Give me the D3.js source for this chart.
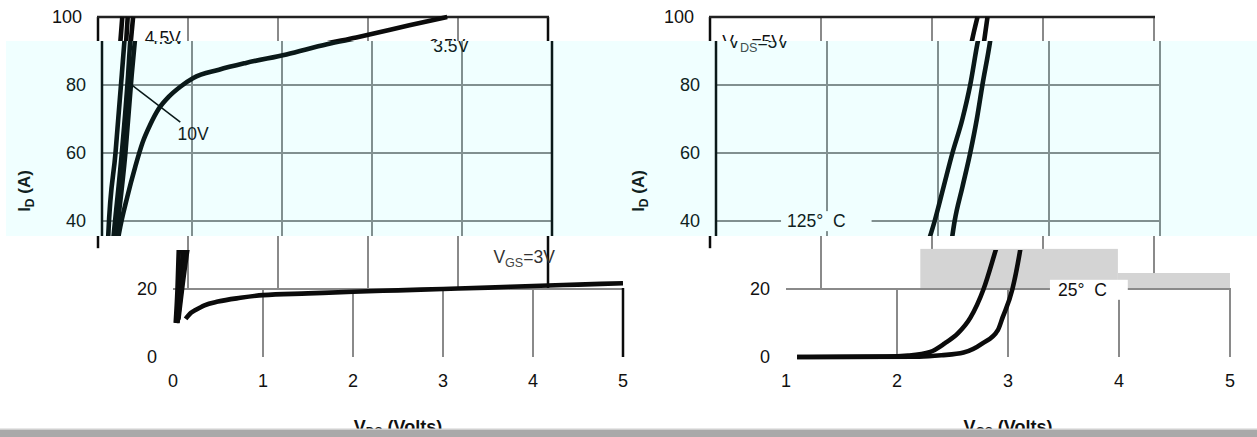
<!DOCTYPE html>
<html><head><meta charset="utf-8">
<script src="https://cdn.jsdelivr.net/npm/d3@7"></script>
<style>body{margin:0;background:#fff}svg{display:block;font-family:"Liberation Sans",Arial,sans-serif}</style>
</head><body>
<script>
// ---------- data ----------
const yTicks = [0, 20, 40, 60, 80, 100];
const outXTicks = [0, 1, 2, 3, 4, 5];
const trXTicks = [1, 2, 3, 4, 5];
// Output characteristics: [V_DS, I_D]
const vgs10 = [[0.03,10],[0.05,20],[0.07,36],[0.15,60],[0.22,83],[0.27,100]];
const vgs45 = [[0.04,10],[0.08,22],[0.13,36],[0.22,60],[0.29,83],[0.33,100]];
const vgs4  = [[0.05,10],[0.10,22],[0.16,36],[0.26,60],[0.33,83],[0.39,100]];
const vgs35 = [[0.06,11],[0.12,24],[0.19,36.5],[0.28,47],[0.37,56],[0.45,63],[0.53,68],[0.63,73],[0.74,76.5],[0.87,79.5],[1.01,82],[1.3,84.5],[1.6,86.5],[2.05,89],[2.5,92],[2.87,94],[3.04,95],[3.46,97.6],[3.88,100]];
const vgs3  = [[0.14,11.2],[0.2,13],[0.25,13.8],[0.35,15.2],[0.5,16.3],[0.75,17.4],[1,18.2],[1.5,18.7],[2,19.2],[2.5,19.6],[3,20],[3.5,20.4],[4,20.9],[4.5,21.3],[5,21.7]];
// Transfer characteristics: [V_GS, I_D]
const temp125 = [[1.1,0],[1.9,0.1],[2.1,0.4],[2.3,1.5],[2.43,4],[2.55,7],[2.66,11.5],[2.78,20],[2.89,31.5],[2.97,40],[3.05,50],[3.13,60],[3.22,70],[3.29,80],[3.36,93],[3.41,100]];
const temp25  = [[1.1,0],[2.2,0.1],[2.4,0.5],[2.6,1.3],[2.77,4],[2.91,8],[2.95,11.5],[3.04,20],[3.11,31.5],[3.15,40],[3.22,50],[3.29,60],[3.35,70],[3.4,80],[3.47,93],[3.5,100]];
// annotations (data coordinates)
const outLabels = [
  {parts:[["4.5V"]], v:0.52, i:92},
  {parts:[["3.5V"]], v:3.68, i:89.7},
  {parts:[["10V"]], v:0.84, i:63.8},
  {parts:[["V"],["GS","sub"],["=3V"]], v:3.56, i:27.6, color:"#333"}
];
const outLeader = [[0.3,80.6],[0.87,69.1]];
const trLabels = [
  {parts:[["V"],["DS","sub"],["=5V"]], v:1.11, i:90.9},
  {parts:[["125°\u00a0\u00a0C"]], v:1.64, i:38.2, bg:[6,26]},
  {parts:[["25°\u00a0\u00a0C"]], v:3.45, i:18, bg:[8,21]}
];

// ---------- layout ----------
const W = 1257, H = 437;
const y = d3.scaleLinear().domain([0,100]).range([357,17]);
const xL = d3.scaleLinear().domain([0,5]).range([173,623]);
const xR = d3.scaleLinear().domain([1,5]).range([786,1230]);
const GRID = "#8a8a8a", INK = "#0b0b0b", TICK = 18;

const panels = [
  {x:xL, xt:outXTicks, gridV:[1,2,3,4], rightFrame:5, curves:[vgs10,vgs45,vgs4,vgs35,vgs3], labels:outLabels, leader:outLeader,
   xt1:"V", xtSub:"DS", xt2:" (Volts)", shifts:{A:-75,B:-71,C:-75}},
  {x:xR, xt:trXTicks, gridV:[2,3,4,5], rightFrame:null, curves:[temp125,temp25], labels:trLabels, leader:null,
   xt1:"V", xtSub:"GS", xt2:" (Volts)", shifts:{A:-76,B:-70,C:-76}}
];

const svg = d3.select("body").append("svg").attr("width",W).attr("height",H);
svg.append("rect").attr("width",W).attr("height",H).attr("fill","#fff");
const defs = svg.append("defs");
function clip(id,y0,y1){ defs.append("clipPath").attr("id",id).append("rect").attr("x",0).attr("y",y0).attr("width",W).attr("height",y1-y0); return `url(#${id})`; }

function drawGrid(g,P,mode){
  const x = P.x, d = x.domain();
  if (mode==="full"){
    [20,40,60,80].forEach(t=>g.append("line").attr("x1",x(d[0])).attr("x2",x(d[1])).attr("y1",y(t)).attr("y2",y(t)).attr("stroke",GRID).attr("stroke-width",2));
  }
  P.gridV.forEach(v=>g.append("line").attr("x1",x(v)).attr("x2",x(v)).attr("y1",y(0)).attr("y2",y(100)).attr("stroke",GRID).attr("stroke-width",2));
  if (P.rightFrame!==null) g.append("line").attr("x1",x(P.rightFrame)).attr("x2",x(P.rightFrame)).attr("y1",y(0)).attr("y2",y(100)).attr("stroke",INK).attr("stroke-width",2.5);
  g.append("line").attr("x1",x(d[0])).attr("x2",x(d[0])).attr("y1",y(32)).attr("y2",y(100)).attr("stroke",INK).attr("stroke-width",2.5);
  if (mode==="full") g.append("line").attr("x1",x(d[0])-1).attr("x2",x(d[1])+1).attr("y1",y(100)).attr("y2",y(100)).attr("stroke","#222").attr("stroke-width",2.5);
}

function addText(g, L, x, yy, size){
  const t = g.append("text").attr("x",x).attr("y",yy).attr("font-size",size).attr("fill",L.color||"#111").style("white-space","pre");
  L.parts.forEach(p=>{
    const ts = t.append("tspan").text(p[0]);
    if (p[1]==="sub") ts.attr("font-size",size*0.72).attr("dy",4).attr("fill","#444");
    else if (t.selectAll("tspan").size()>1) ts.attr("dy",-4);
  });
  return t;
}

// the whole panel content; each band draws it and the band clip shows its slice
function drawContent(g,P){
  const x = P.x;
  const line = d3.line().x(d=>x(d[0])).y(d=>y(d[1])).curve(d3.curveMonotoneX);
  P.curves.forEach(c=>g.append("path").attr("d",line(c)).attr("fill","none").attr("stroke",INK).attr("stroke-width",4.6).attr("stroke-linejoin","round"));
  if (P.leader) g.append("line").attr("x1",x(P.leader[0][0])).attr("y1",y(P.leader[0][1])).attr("x2",x(P.leader[1][0])).attr("y2",y(P.leader[1][1])).attr("stroke",INK).attr("stroke-width",1.5);
  P.labels.forEach(L=>{
    const t = addText(g,L,x(L.v),y(L.i),17.5);
    if (L.bg){
      const b = t.node().getBBox();
      g.insert("rect",()=>t.node()).attr("x",b.x-L.bg[0]).attr("y",b.y).attr("width",b.width+L.bg[0]+L.bg[1]).attr("height",b.height).attr("fill","#fff");
    }
  });
  const d = x.domain();
  yTicks.forEach(t=>g.append("text").attr("x",x(d[0])-16).attr("y",y(t)).attr("dy","0.35em").attr("text-anchor","end").attr("font-size",TICK).attr("fill","#111").text(t));
  P.xt.forEach(t=>g.append("text").attr("x",x(t)).attr("y",381).attr("dy","0.35em").attr("text-anchor","middle").attr("font-size",TICK).attr("fill","#111").text(t));
  const yt = g.append("text").attr("transform",`translate(${x(d[0])-72},191) rotate(-90)`).attr("text-anchor","middle").attr("font-size",17).attr("font-weight","bold").attr("fill","#111");
  yt.append("tspan").text("I"); yt.append("tspan").text("D").attr("font-size",12).attr("dy",4); yt.append("tspan").text(" (A)").attr("dy",-4);
  const xt = g.append("text").attr("x",(x(d[0])+x(d[1]))/2).attr("y",433).attr("text-anchor","middle").attr("font-size",18).attr("font-weight","bold").attr("fill","#111");
  xt.append("tspan").text(P.xt1); xt.append("tspan").text(P.xtSub).attr("font-size",12).attr("dy",3); xt.append("tspan").text(P.xt2).attr("dy",-3);
}

// Band A
const cA = svg.append("g").attr("clip-path",clip("cA",0,41));
panels.forEach(P=>{ const g=cA.append("g").attr("transform",`translate(${P.shifts.A},0)`); drawGrid(g,P,"full"); drawContent(g,P); });
// Band B (tinted)
const cB = svg.append("g").attr("clip-path",clip("cB",41,236));
panels.forEach(P=>{ const g=cB.append("g").attr("transform",`translate(${P.shifts.B},0)`); drawGrid(g,P,"full"); drawContent(g,P); });
svg.append("rect").attr("x",6).attr("y",41).attr("width",W-6).attr("height",195).attr("fill","#00ffff").attr("opacity",0.06);
// Band C: shifted verticals only
const cC = svg.append("g").attr("clip-path",clip("cC",236,289));
panels.forEach(P=>{ const g=cC.append("g").attr("transform",`translate(${P.shifts.C},0)`); drawGrid(g,P,"vert"); });
// grey artefact boxes on the transfer panel
svg.append("rect").attr("x",xR(2.21)).attr("y",y(31.8)).attr("width",xR(3.99)-xR(2.21)).attr("height",y(20)-y(31.8)).attr("fill","#d4d4d4");
svg.append("rect").attr("x",xR(3.99)).attr("y",y(24.7)).attr("width",xR(5)-xR(3.99)).attr("height",y(20)-y(24.7)).attr("fill","#d4d4d4");
// Band D: unshifted
const cDg = svg.append("g").attr("clip-path",clip("cDg",288,H));
panels.forEach(P=>drawGrid(cDg.append("g"),P,"full"));
const cDc = svg.append("g").attr("clip-path",clip("cDc",250,H));
panels.forEach(P=>drawContent(cDc.append("g"),P));
// bottom strip
svg.append("rect").attr("x",0).attr("y",428.5).attr("width",W).attr("height",1.5).attr("fill","#d0d0d0");
svg.append("rect").attr("x",0).attr("y",430).attr("width",W).attr("height",7).attr("fill","#a9a9a9");
</script>
</body></html>
